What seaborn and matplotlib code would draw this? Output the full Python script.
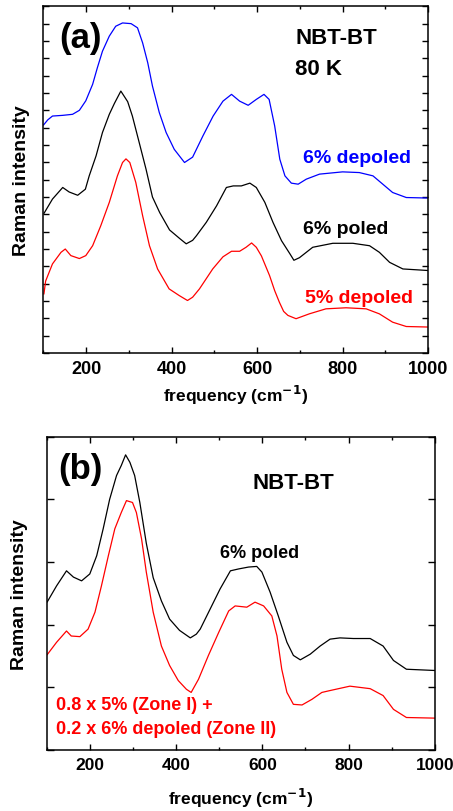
import matplotlib.pyplot as plt
import seaborn as sns
from matplotlib.ticker import MultipleLocator

# panel (a): frequency (cm-1) / Raman intensity (arbitrary, offset units)
freq_a_blue = [100, 110, 121, 145, 168, 184, 199, 215, 226, 238, 254, 269, 285, 305, 320, 332, 344, 355,
               371, 387, 406, 430, 449, 473, 497, 520, 540, 559, 579, 598, 616, 628, 641, 653, 665, 680,
               696, 715, 746, 800, 839, 871, 894, 917, 949, 1000]
int_a_blue = [13.15, 13.45, 13.67, 13.71, 13.77, 14.0, 14.55, 15.5, 16.45, 17.41, 18.28, 18.85, 19.04, 19.0,
              18.76, 17.89, 16.74, 15.4, 13.87, 12.72, 11.75, 10.99, 11.3, 12.52, 13.67, 14.53, 14.92,
              14.53, 14.29, 14.63, 14.92, 14.63, 13.1, 11.18, 10.22, 9.8, 9.74, 10.03, 10.32, 10.45,
              10.41, 10.22, 9.74, 9.26, 8.97, 8.94]

freq_a_black = [101, 121, 145, 160, 180, 198, 207, 223, 238, 254, 266, 281, 297, 308, 324, 340, 355, 372,
                395, 419, 434, 449, 458, 481, 505, 528, 544, 563, 583, 598, 618, 637, 657, 677, 686, 699,
                730, 777, 824, 863, 886, 910, 941, 1000]
int_a_black = [8.05, 8.88, 9.55, 9.29, 9.1, 9.45, 10.22, 11.37, 12.72, 13.77, 14.4, 15.11, 14.5, 13.67,
               12.14, 10.6, 9.0, 8.1, 7.1, 6.6, 6.3, 6.5, 6.77, 7.54, 8.49, 9.55, 9.64, 9.64, 9.8, 9.55,
               8.69, 7.54, 6.48, 5.71, 5.35, 5.5, 6.10, 6.33, 6.33, 6.19, 5.81, 5.23, 4.85, 4.76]

freq_a_red = [101, 105, 121, 141, 151, 164, 184, 199, 215, 234, 254, 273, 285, 293, 302, 316, 332, 348,
              367, 394, 418, 437, 449, 465, 496, 520, 540, 559, 574, 587, 598, 610, 629, 641, 652, 662,
              672, 691, 722, 761, 808, 855, 886, 917, 949, 1000]
int_a_red = [3.4, 4.15, 5.14, 5.81, 6.0, 5.62, 5.45, 5.62, 6.19, 7.34, 8.69, 10.22, 10.99, 11.2, 10.99,
             9.84, 7.92, 6.19, 4.85, 3.70, 3.31, 3.03, 3.22, 3.70, 4.85, 5.55, 5.87, 5.87, 6.10, 6.35,
             6.1, 5.6, 4.47, 3.6, 2.93, 2.4, 2.17, 1.98, 2.26, 2.55, 2.61, 2.55, 2.26, 1.78, 1.53, 1.5]

# panel (b)
freq_b_black = [101, 123, 146, 162, 181, 200, 216, 231, 246, 262, 273, 283, 293, 304, 316, 331, 347, 366,
                385, 408, 433, 447, 456, 479, 502, 526, 545, 568, 587, 599, 618, 637, 657, 672, 688, 711,
                734, 757, 780, 811, 850, 880, 904, 934, 1000]
int_b_black = [2.36, 2.62, 2.86, 2.76, 2.70, 2.81, 3.10, 3.53, 4.0, 4.38, 4.54, 4.71, 4.59, 4.38, 3.95,
               3.3, 2.75, 2.38, 2.09, 1.91, 1.79, 1.85, 1.93, 2.25, 2.57, 2.86, 2.89, 2.92, 2.93, 2.84,
               2.52, 2.14, 1.72, 1.51, 1.44, 1.53, 1.66, 1.77, 1.79, 1.78, 1.78, 1.66, 1.43, 1.29, 1.27]

freq_b_red = [101, 123, 146, 157, 177, 196, 212, 227, 243, 258, 273, 285, 299, 308, 320, 331, 347, 366,
              385, 405, 424, 435, 452, 475, 499, 522, 537, 564, 583, 603, 622, 634, 645, 657, 672, 692,
              715, 738, 757, 803, 850, 880, 904, 934, 1000]
int_b_red = [1.52, 1.72, 1.90, 1.82, 1.81, 1.93, 2.20, 2.62, 3.10, 3.53, 3.79, 3.98, 3.95, 3.79, 3.37,
             2.84, 2.20, 1.66, 1.35, 1.11, 0.97, 0.92, 1.13, 1.51, 1.88, 2.22, 2.30, 2.28, 2.36, 2.30,
             2.14, 1.82, 1.29, 0.92, 0.73, 0.72, 0.81, 0.92, 0.95, 1.02, 0.98, 0.87, 0.65, 0.52, 0.51]

BLUE = "#0000ff"
RED = "#ff0000"

sns.set_style("ticks")
plt.rcParams['font.family'] = ['Liberation Sans', 'DejaVu Sans']
plt.rcParams['font.weight'] = 'bold'
plt.rcParams['mathtext.default'] = 'bf'
plt.rcParams['text.color'] = 'black'
plt.rcParams['axes.labelcolor'] = 'black'
plt.rcParams['xtick.color'] = 'black'
plt.rcParams['ytick.color'] = 'black'

fig = plt.figure(figsize=(4.53, 8.12), dpi=100)
ax1 = fig.add_axes([0.096, 0.564, 0.849, 0.427])
ax2 = fig.add_axes([0.103, 0.075, 0.857, 0.386])


def style_axis(ax, ymax):
    ax.set_xlim(100, 1000)
    ax.set_ylim(0, ymax)
    ax.xaxis.set_major_locator(MultipleLocator(200))
    ax.xaxis.set_minor_locator(MultipleLocator(100))
    ax.yaxis.set_major_locator(MultipleLocator(1))
    ax.tick_params(axis='both', which='both', direction='in', top=True, right=True, width=1.0)
    ax.tick_params(axis='both', which='major', length=4)
    ax.tick_params(axis='x', which='minor', length=2.5)
    ax.tick_params(axis='x', labelsize=13, pad=5)
    ax.set_yticklabels([])
    for s in ax.spines.values():
        s.set_linewidth(1.1)
        s.set_color('black')
    ax.set_xlabel("frequency (cm$^{-1}$)", fontsize=12.5, fontweight='bold')
    ax.set_ylabel("Raman intensity", fontsize=14, fontweight='bold')


sns.lineplot(x=freq_a_blue, y=int_a_blue, ax=ax1, color=BLUE, lw=0.9)
sns.lineplot(x=freq_a_black, y=int_a_black, ax=ax1, color='black', lw=0.9)
sns.lineplot(x=freq_a_red, y=int_a_red, ax=ax1, color=RED, lw=0.9)
style_axis(ax1, 20)
ax1.xaxis.labelpad = 4
ax1.yaxis.labelpad = 6

ax1.text(0.04, 0.91, "(a)", transform=ax1.transAxes, fontsize=25, fontweight='bold', va='center')
ax1.text(0.655, 0.91, "NBT-BT", transform=ax1.transAxes, fontsize=16, fontweight='bold', va='center')
ax1.text(0.655, 0.82, "80 K", transform=ax1.transAxes, fontsize=16, fontweight='bold', va='center')
ax1.text(0.675, 0.565, "6% depoled", transform=ax1.transAxes, fontsize=14, fontweight='bold',
         va='center', color=BLUE)
ax1.text(0.675, 0.36, "6% poled", transform=ax1.transAxes, fontsize=14, fontweight='bold',
         va='center')
ax1.text(0.68, 0.16, "5% depoled", transform=ax1.transAxes, fontsize=14, fontweight='bold',
         va='center', color=RED)

sns.lineplot(x=freq_b_black, y=int_b_black, ax=ax2, color='black', lw=0.9)
sns.lineplot(x=freq_b_red, y=int_b_red, ax=ax2, color=RED, lw=0.9)
style_axis(ax2, 5)
ax2.tick_params(axis='y', which='major', length=5)
ax2.tick_params(axis='x', labelsize=12.5)
ax2.xaxis.labelpad = 10
ax2.yaxis.labelpad = 10

ax2.text(0.03, 0.9, "(b)", transform=ax2.transAxes, fontsize=25, fontweight='bold', va='center')
ax2.text(0.53, 0.855, "NBT-BT", transform=ax2.transAxes, fontsize=16, fontweight='bold', va='center')
ax2.text(0.447, 0.63, "6% poled", transform=ax2.transAxes, fontsize=13, fontweight='bold', va='center')
ax2.text(0.023, 0.145, "0.8 x 5% (Zone I) +", transform=ax2.transAxes, fontsize=13, fontweight='bold',
         va='center', color=RED)
ax2.text(0.023, 0.07, "0.2 x 6% depoled (Zone II)", transform=ax2.transAxes, fontsize=13,
         fontweight='bold', va='center', color=RED)

fig.savefig("out.png", dpi=100)
